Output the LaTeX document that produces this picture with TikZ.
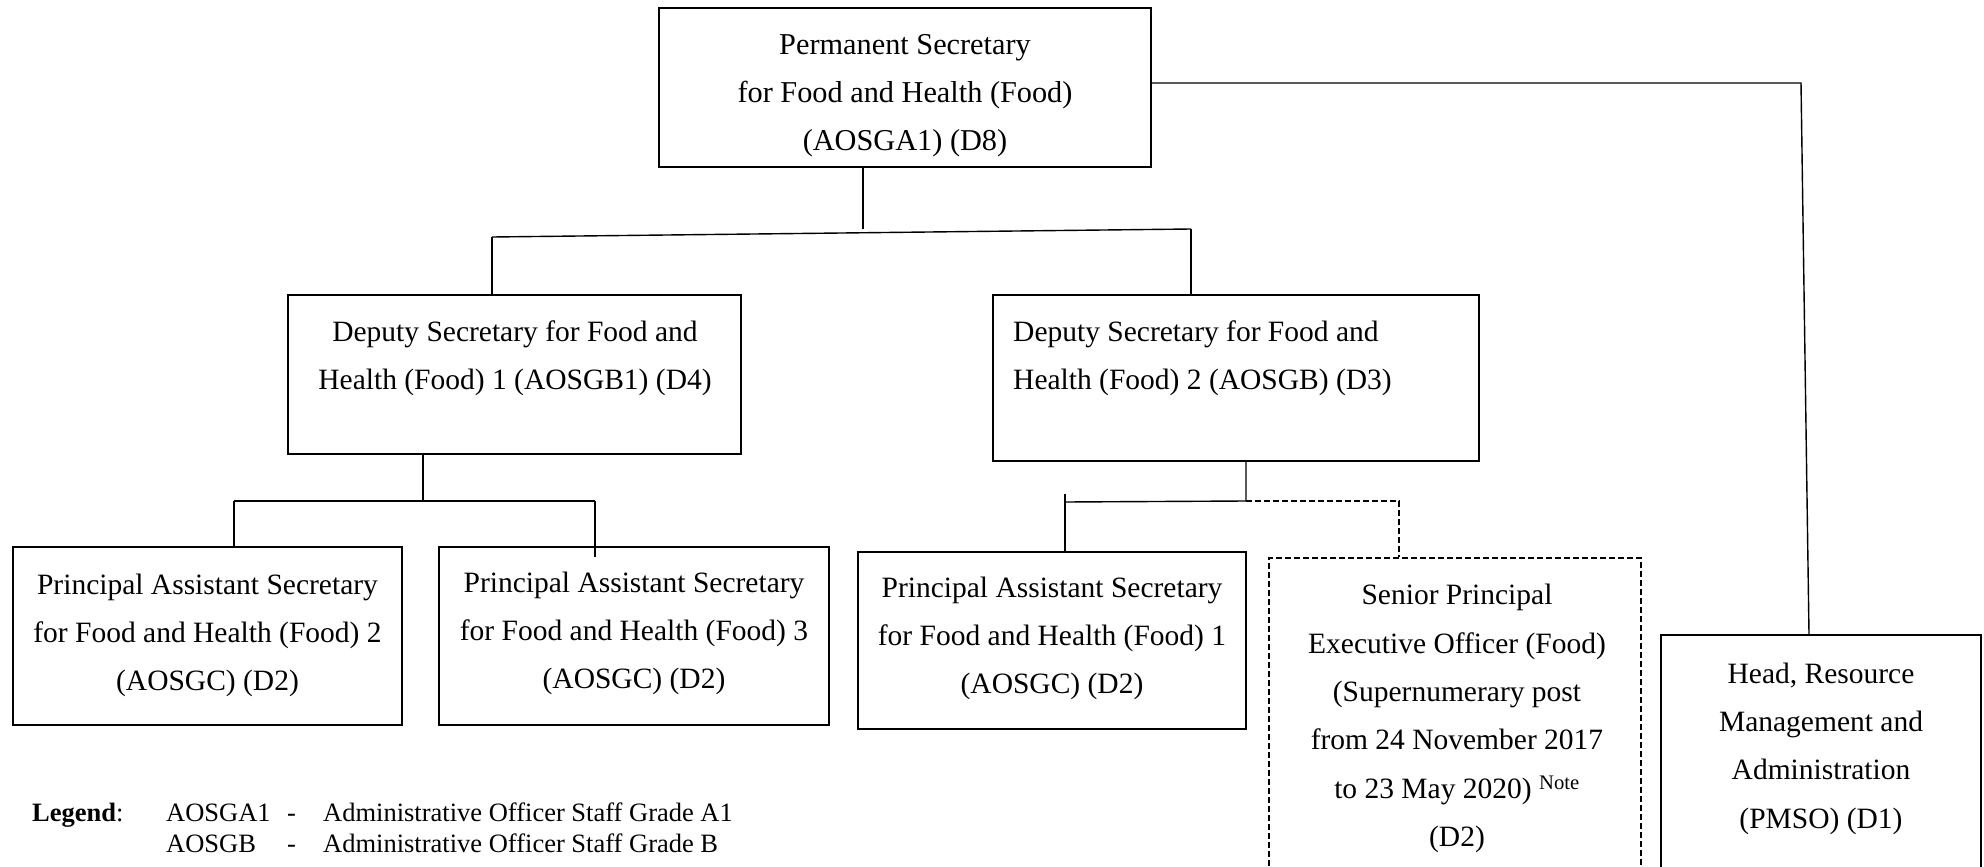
\documentclass[tikz,border=0pt]{standalone}
\usepackage{fontspec}
\setmainfont{Liberation Serif}
\begin{document}
\begin{tikzpicture}[x=1pt,y=-1pt,
  box/.style={draw, line width=1.4pt, inner sep=0pt, rectangle},
  dbox/.style={box, dash pattern=on 6pt off 3pt},
  txt/.style={align=center, inner sep=0pt, font=\fontsize{29.5}{48.3}\selectfont},
  ln/.style={line width=1.4pt},
  dln/.style={ln, dash pattern=on 6pt off 3pt},
  leg/.style={anchor=base west, inner sep=0pt, font=\fontsize{26.5}{30}\selectfont}]
\useasboundingbox[fill=white] (0,0) rectangle (1984,867);
\clip (0,0) rectangle (1984,867);

% boxes
\node[box, minimum width=492pt, minimum height=159pt] (ps) at (905,87.5) {};
\node[box, minimum width=453pt, minimum height=159pt] (ds1) at (514.5,374.5) {};
\node[box, minimum width=486pt, minimum height=166pt] (ds2) at (1236,378) {};
\node[box, minimum width=389pt, minimum height=178pt] (pas2) at (207.5,636) {};
\node[box, minimum width=390pt, minimum height=178pt] (pas3) at (634,636) {};
\node[box, minimum width=388pt, minimum height=177pt] (pas1) at (1052,640.5) {};
\node[dbox, minimum width=372pt, minimum height=340pt] (speo) at (1455,728) {};
\node[box, minimum width=320pt, minimum height=270pt] (hr) at (1821,770) {};

% texts
\node[txt, font=\fontsize{30.3}{48.3}\selectfont] (tps) at (905,95.5) {Permanent Secretary\\for Food and Health (Food)\\(AOSGA1) (D8)};
\node[txt] (tds1) at (515,358) {Deputy Secretary for Food and\\Health (Food) 1 (AOSGB1) (D4)};
\node[txt, align=left, anchor=west] (tds2) at (1013,358) {Deputy Secretary for Food and\\Health (Food) 2 (AOSGB) (D3)};
\node[txt] (tpas2) at (207.5,635.5) {Principal Assistant Secretary\\for Food and Health (Food) 2\\(AOSGC) (D2)};
\node[txt] (tpas3) at (634,633.5) {Principal Assistant Secretary\\for Food and Health (Food) 3\\(AOSGC) (D2)};
\node[txt] (tpas1) at (1052,638.5) {Principal Assistant Secretary\\for Food and Health (Food) 1\\(AOSGC) (D2)};
\node[txt] (tspeo) at (1457,718.5) {Senior Principal\\Executive Officer (Food)\\(Supernumerary post\\from 24 November 2017\\to 23 May 2020) \textsuperscript{Note}\\(D2)};
\node[txt] (thr) at (1821,748.5) {Head, Resource\\Management and\\Administration\\(PMSO) (D1)};

% legend
\node[leg] (lg) at (32,821) {\textbf{Legend}:};
\node[leg] (la1) at (166,821) {AOSGA1};
\node[leg] (ld1) at (287,821) {-};
\node[leg] (lt1) at (323,821) {Administrative Officer Staff Grade A1};
\node[leg] (la2) at (166,852) {AOSGB};
\node[leg] (ld2) at (287,852) {-};
\node[leg] (lt2) at (323,852) {Administrative Officer Staff Grade B};

% junction coordinates
\coordinate (j0) at (863,229);
\coordinate (hL) at (492,237);
\coordinate (hR) at (1191,229);
\coordinate (j1) at (423,501);
\coordinate (h2L) at (234,501);
\coordinate (h2R) at (595,501);
\coordinate (h2Rend) at (595,557);
\coordinate (j2) at (1246,501);
\coordinate (h3L) at (1065,502);
\coordinate (h3Ltop) at (1065,494);
\coordinate (h3D) at (1399,501);
\coordinate (r1) at (1801,83);
\coordinate (r2) at (1809,635);

% connectors
\draw[ln] (ps.south -| j0) -- (j0);
\draw[ln] (hL) -- (hR);
\draw[ln] (hL) -- (hL |- ds1.north);
\draw[ln] (hR) -- (hR |- ds2.north);

\draw[ln] (ds1.south -| j1) -- (j1);
\draw[ln] (h2L) -- (h2R);
\draw[ln] (h2L) -- (h2L |- pas2.north);
\draw[ln] (h2R) -- (h2Rend);

\draw[ln] (ds2.south -| j2) -- (j2) -- (h3L);
\draw[ln] (h3Ltop) -- (h3Ltop |- pas1.north);
\draw[dln] (j2) -- (h3D) -- (h3D |- speo.north);

\draw[ln] (ps.east |- r1) -- (r1) -- (r2 |- hr.north);
\end{tikzpicture}
\end{document}
